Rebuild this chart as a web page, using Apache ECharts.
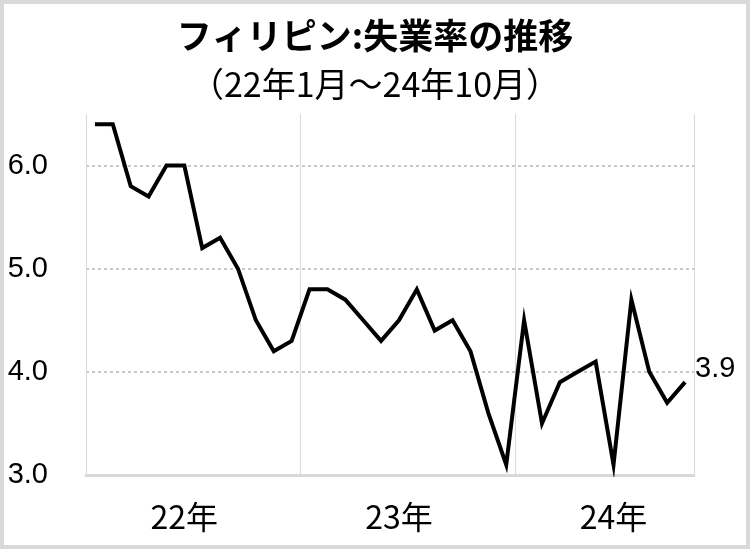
<!DOCTYPE html>
<html>
<head>
<meta charset="utf-8">
<script src="https://cdn.jsdelivr.net/npm/echarts@6/dist/echarts.min.js"></script>
<style>
html,body{margin:0;padding:0;background:#fff;}
#c{width:750px;height:549px;}
</style>
</head>
<body>
<div id="c"></div>
<script>
const titleText = 'フィリピン:失業率の推移';
const subtitleText = '（22年1月～24年10月）';
const categories = [
  '22年1月','22年2月','22年3月','22年4月','22年5月','22年6月','22年7月','22年8月','22年9月','22年10月','22年11月','22年12月',
  '23年1月','23年2月','23年3月','23年4月','23年5月','23年6月','23年7月','23年8月','23年9月','23年10月','23年11月','23年12月',
  '24年1月','24年2月','24年3月','24年4月','24年5月','24年6月','24年7月','24年8月','24年9月','24年10月'
];
const unemployment = [
  6.4, 6.4, 5.8, 5.7, 6.0, 6.0, 5.2, 5.3, 5.0, 4.5, 4.2, 4.3,
  4.8, 4.8, 4.7, 4.5, 4.3, 4.5, 4.8, 4.4, 4.5, 4.2, 3.6, 3.1,
  4.5, 3.5, 3.9, 4.0, 4.1, 3.1, 4.7, 4.0, 3.7, 3.9
];
const yearLabels = ['22年', '23年', '24年'];
const yTicks = [3.0, 4.0, 5.0, 6.0];

const chart = echarts.init(document.getElementById('c'), null, {renderer: 'canvas'});
chart.setOption({
  animation: false,
  backgroundColor: '#fff',
  title: [
    {text: titleText, left: 'center', top: 13,
     textStyle: {fontFamily: 'Noto Sans CJK JP', fontWeight: 'bold', fontSize: 35, color: '#000'}},
    {text: subtitleText, left: 'center', top: 62,
     textStyle: {fontFamily: 'Noto Sans CJK JP', fontWeight: 'normal', fontSize: 34, color: '#000'}}
  ],
  graphic: [{
    type: 'rect', silent: true, z: 100,
    shape: {x: 2, y: 2, width: 746, height: 545},
    style: {fill: 'none', stroke: '#d9d9d9', lineWidth: 4}
  }],
  grid: {left: 86, right: 56, top: 114, bottom: 74},
  xAxis: {
    type: 'category',
    data: categories,
    boundaryGap: true,
    axisLine: {show: true, lineStyle: {color: '#d9d9d9', width: 3}},
    axisTick: {show: false},
    axisLabel: {
      interval: (i) => i % 12 === 5,
      formatter: (v, i) => yearLabels[Math.floor(i / 12)],
      fontFamily: 'Noto Sans CJK JP', fontSize: 32, color: '#000', margin: 26
    },
    splitLine: {show: true, interval: (i) => i % 12 === 0,
      lineStyle: {color: '#d9d9d9', width: 1, type: 'solid'}}
  },
  yAxis: {
    type: 'value',
    min: 3, max: 6.5, interval: 1,
    axisLine: {show: false},
    axisTick: {show: false},
    axisLabel: {
      formatter: (v) => yTicks.indexOf(v) >= 0 ? v.toFixed(1) : '',
      fontFamily: 'Liberation Sans', fontSize: 29, color: '#000', margin: 38
    },
    splitLine: {show: true, showMinLine: false, showMaxLine: false,
      lineStyle: {color: '#c8c8c8', width: 2, type: [3, 3]}}
  },
  series: [{
    type: 'line',
    data: unemployment,
    showSymbol: false,
    lineStyle: {color: '#000', width: 4, join: 'miter'},
    endLabel: {
      show: true,
      formatter: (p) => Number(p.value).toFixed(1),
      fontFamily: 'Liberation Sans', fontSize: 29, color: '#000',
      distance: 10, offset: [0, -13]
    }
  }]
});
</script>
</body>
</html>
